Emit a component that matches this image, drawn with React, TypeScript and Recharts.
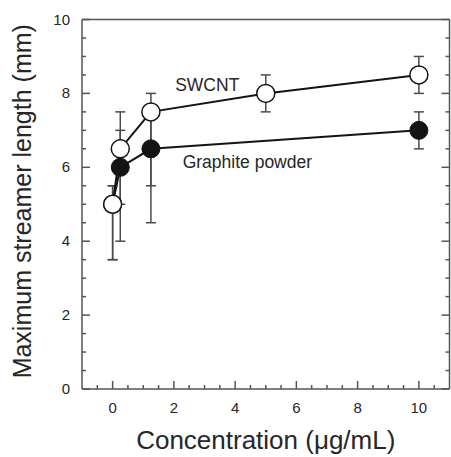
import React from 'react';
import { ComposedChart, Line, XAxis, YAxis, ErrorBar, ReferenceDot } from 'recharts';

// SWCNT series (open circles)
const swcntX = [0, 0.25, 1.25, 5, 10];
const swcntY = [5, 6.5, 7.5, 8, 8.5];
const swcntErrLow = [1.5, 1.5, 2.0, 0.5, 0.5];
const swcntErrHigh = [0.5, 1.0, 0.5, 0.5, 0.5];

// Graphite powder series (filled circles)
const graphiteX = [0, 0.25, 1.25, 10];
const graphiteY = [5, 6, 6.5, 7];
const graphiteErrLow = [1.5, 2, 2, 0.5];
const graphiteErrHigh = [0.5, 1, 1, 0.5];

// Axis ticks
const xTicks = [-0.5, 0, 0.5, 1, 1.5, 2, 2.5, 3, 3.5, 4, 4.5, 5, 5.5, 6, 6.5, 7, 7.5, 8, 8.5, 9, 9.5, 10, 10.5];
const xMajor = [0, 2, 4, 6, 8, 10];
const yTicks = [0, 0.5, 1, 1.5, 2, 2.5, 3, 3.5, 4, 4.5, 5, 5.5, 6, 6.5, 7, 7.5, 8, 8.5, 9, 9.5, 10];
const yMajor = [0, 2, 4, 6, 8, 10];

// Annotations
const annText = ['SWCNT', 'Graphite powder'];
const annX = [3.09, 4.4];
const annY = [8.22, 6.14];

const swcntData = swcntX.map((x, i) => ({ x, y: swcntY[i], err: [swcntErrLow[i], swcntErrHigh[i]] }));
const graphiteData = graphiteX.map((x, i) => ({ x, y: graphiteY[i], err: [graphiteErrLow[i], graphiteErrHigh[i]] }));

const FONT = '"Liberation Sans", Arial, Helvetica, sans-serif';
const AXIS = '#555';
const TEXT = '#262626';
const LINE = '#141414';

const XTickB = (props: any) => {
  const { x, y, payload } = props;
  const v = payload.value;
  const major = xMajor.includes(v);
  return (
    <g>
      <line x1={x} x2={x} y1={y} y2={y - (major ? 8 : 4)} stroke={AXIS} strokeWidth={1.5} />
      {major && (
        <text x={x} y={y + 24} textAnchor="middle" fontSize={15} fontFamily={FONT} fill={TEXT}>
          {v}
        </text>
      )}
    </g>
  );
};

const YTickL = (props: any) => {
  const { x, y, payload } = props;
  const v = payload.value;
  const major = yMajor.includes(v);
  return (
    <g>
      <line x1={x} x2={x + (major ? 8 : 4)} y1={y} y2={y} stroke={AXIS} strokeWidth={1.5} />
      {major && (
        <text x={x - 12} y={y + 5} textAnchor="end" fontSize={15} fontFamily={FONT} fill={TEXT}>
          {v}
        </text>
      )}
    </g>
  );
};

const YTickR = (props: any) => {
  const { x, y, payload } = props;
  const v = payload.value;
  const major = yMajor.includes(v);
  return <line x1={x} x2={x - (major ? 8 : 4)} y1={y} y2={y} stroke={AXIS} strokeWidth={1.5} />;
};

const XTitle = (props: any) => {
  const vb = props.viewBox;
  return (
    <text x={vb.x + vb.width / 2} y={vb.y + 60} textAnchor="middle" fontSize={26} fontFamily={FONT} fill={TEXT}>
      Concentration (μg/mL)
    </text>
  );
};

const YTitle = (props: any) => {
  const vb = props.viewBox;
  const cx = 22;
  const cy = vb.y + vb.height / 2 - 3;
  return (
    <text
      x={cx}
      y={cy}
      transform={`rotate(-90 ${cx} ${cy})`}
      textAnchor="middle"
      dominantBaseline="central"
      fontSize={25}
      fontFamily={FONT}
      fill={TEXT}
    >
      Maximum streamer length (mm)
    </text>
  );
};

const AnnLabel = (text: string) => (props: any) => {
  const vb = props.viewBox;
  return (
    <text x={vb.x} y={vb.y} textAnchor="middle" dominantBaseline="central" fontSize={17.5} fontFamily={FONT} fill={TEXT}>
      {text}
    </text>
  );
};

export default function App() {
  return (
    <div style={{ position: 'absolute', left: 0, top: 0, width: 451, height: 457, background: '#fff' }}>
      <ComposedChart width={451} height={457} margin={{ top: 19, right: 0, bottom: 28, left: 42 }}>
        <XAxis
          xAxisId="b"
          dataKey="x"
          type="number"
          domain={[-1, 11]}
          allowDataOverflow
          ticks={xTicks}
          interval={0}
          tickSize={0}
          tickMargin={0}
          tickLine={false}
          tick={<XTickB />}
          height={40}
          axisLine={{ stroke: AXIS, strokeWidth: 1.5 }}
          label={<XTitle />}
        />
        <XAxis
          xAxisId="t"
          orientation="top"
          dataKey="x"
          type="number"
          domain={[-1, 11]}
          allowDataOverflow
          tick={false}
          tickLine={false}
          height={0.5}
          axisLine={{ stroke: AXIS, strokeWidth: 1.5 }}
        />
        <YAxis
          yAxisId="l"
          type="number"
          domain={[0, 10]}
          allowDataOverflow
          ticks={yTicks}
          interval={0}
          tickSize={0}
          tickMargin={0}
          tickLine={false}
          tick={<YTickL />}
          width={40}
          axisLine={{ stroke: AXIS, strokeWidth: 1.5 }}
          label={<YTitle />}
        />
        <YAxis
          yAxisId="r"
          orientation="right"
          type="number"
          domain={[0, 10]}
          allowDataOverflow
          ticks={yTicks}
          interval={0}
          tickSize={0}
          tickMargin={0}
          tickLine={false}
          tick={<YTickR />}
          width={1.5}
          axisLine={{ stroke: AXIS, strokeWidth: 1.5 }}
        />
        <Line
          xAxisId="b"
          yAxisId="r"
          data={graphiteData}
          dataKey="y"
          stroke={LINE}
          strokeWidth={2}
          dot={{ r: 9, fill: LINE, stroke: LINE, strokeWidth: 1 }}
          isAnimationActive={false}
        >
          <ErrorBar dataKey="err" direction="y" width={5} stroke="#4a4a4a" strokeWidth={1.5} isAnimationActive={false} />
        </Line>
        <Line
          xAxisId="b"
          yAxisId="l"
          data={swcntData}
          dataKey="y"
          stroke={LINE}
          strokeWidth={2}
          dot={{ r: 9, fill: '#fff', stroke: LINE, strokeWidth: 1.5 }}
          isAnimationActive={false}
        >
          <ErrorBar dataKey="err" direction="y" width={5} stroke="#4a4a4a" strokeWidth={1.5} isAnimationActive={false} />
        </Line>
        {annText.map((t, i) => (
          <ReferenceDot
            key={t}
            xAxisId="b"
            yAxisId="l"
            x={annX[i]}
            y={annY[i]}
            r={0}
            fill="none"
            stroke="none"
            label={AnnLabel(t)}
          />
        ))}
      </ComposedChart>
    </div>
  );
}
